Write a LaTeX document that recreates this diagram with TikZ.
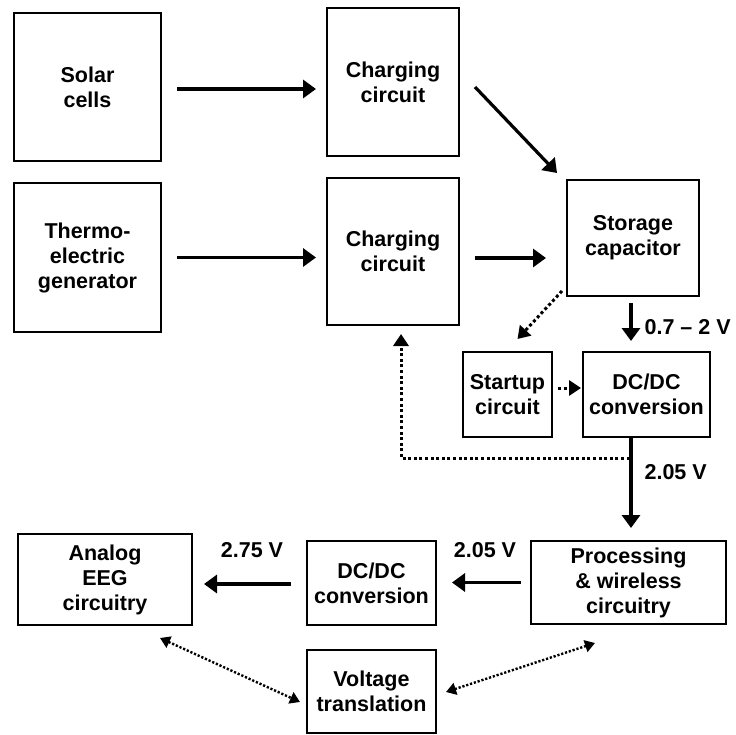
\documentclass[tikz,border=0pt]{standalone}
\usepackage{fontspec}
\setmainfont{Liberation Sans}
\usetikzlibrary{arrows.meta}
\tikzset{
  box/.style={draw=black,line width=2pt,inner sep=0pt,align=center,font=\bfseries\fontsize{21.5}{25}\selectfont},
  lbl/.style={inner sep=0pt,font=\bfseries\fontsize{21.5}{25}\selectfont},
  ar/.style={-{Triangle[length=13pt,width=18pt]},line width=3.2pt},
  ard/.style={-{Triangle[length=12pt,width=15pt]},line width=3pt,dash pattern=on 3pt off 2.6pt},
  ardd/.style={{Triangle[length=10pt,width=12pt]}-{Triangle[length=10pt,width=12pt]},line width=2.4pt,dash pattern=on 2.2pt off 1.8pt},
}
\begin{document}
\begin{tikzpicture}[x=1pt,y=-1pt]
  \useasboundingbox (0,0) rectangle (736,735);

  % ── harvesting side ──
  \node[box,minimum width=147pt,minimum height=148pt] (solar) at (87.5,87) {Solar\\cells};
  \node[box,minimum width=132pt,minimum height=148pt] (chg1) at (393,82) {Charging\\circuit};
  \node[box,minimum width=147pt,minimum height=149pt] (teg) at (87.5,257.5) {Thermo-\\electric\\generator};
  \node[box,minimum width=132pt,minimum height=147pt] (chg2) at (393,251.5) {Charging\\circuit};
  \node[box,minimum width=132pt,minimum height=116pt] (stor) at (633,238) {Storage\\capacitor};

  % ── power conversion ──
  \node[box,minimum width=89pt,minimum height=85pt] (start) at (507.5,394.5) {Startup\\circuit};
  \node[box,minimum width=127pt,minimum height=85pt] (dcdc1) at (646.5,394.5) {DC/DC\\conversion};

  % ── load side ──
  \node[box,minimum width=195pt,minimum height=83pt] (proc) at (628.5,582.5) {Processing\\\& wireless\\circuitry};
  \node[box,minimum width=129pt,minimum height=84pt] (dcdc2) at (371.5,583) {DC/DC\\conversion};
  \node[box,minimum width=174pt,minimum height=91pt] (eeg) at (105,579.5) {Analog\\EEG\\circuitry};
  \node[box,minimum width=129pt,minimum height=83pt] (volt) at (371.5,691.5) {Voltage\\translation};

  % solid power paths
  \draw[ar,shorten <=15pt,shorten >=10pt] ([yshift=-2pt]solar.east) -- ([yshift=-2pt]solar.east -| chg1.west);
  \draw[ar,shorten <=15pt,shorten >=10pt] (teg.east) -- (teg.east -| chg2.west);
  \draw[ar] ([shift={(15,5)}]chg1.east) -- ([shift={(-9,-6)}]stor.north west);
  \draw[ar,shorten <=15pt,shorten >=20pt] ([yshift=-6.5pt]chg2.east) -- ([yshift=-6.5pt]chg2.east -| stor.west);
  \draw[ar,shorten <=6pt,shorten >=10pt] ([xshift=-2pt]stor.south) -- ([xshift=-2pt]stor.south |- dcdc1.north)
    node[lbl,pos=.55,anchor=west,xshift=12pt] (v1) {0.7 – 2 V};
  \draw[ar,shorten >=12pt] ([xshift=-15.5pt]dcdc1.south) -- ([xshift=-15.5pt]dcdc1.south |- proc.north)
    node[lbl,pos=.33,anchor=west,xshift=12pt] (v2) {2.05 V};
  \draw[ar,shorten <=9pt,shorten >=15pt] (proc.west) -- (proc.west -| dcdc2.east);
  \draw[ar,shorten <=15pt,shorten >=11pt] ([yshift=-1pt]dcdc2.west) -- ([yshift=-1pt]dcdc2.west -| eeg.east);
  \node[lbl] (v3) at (485,550) {2.05 V};
  \node[lbl] (v4) at (252,550) {2.75 V};

  % dotted control paths
  \draw[ard] ([shift={(-4,-6)}]stor.south west) -- ([shift={(10,-12)}]start.north);
  \draw[ard,shorten <=5pt,shorten >=1pt] ([yshift=6.5pt]start.east) -- ([yshift=6.5pt]start.east -| dcdc1.west);
  \coordinate (fb) at ([shift={(-17,20)}]dcdc1.south);
  \draw[ard] (fb) -| ([shift={(8,8)}]chg2.south);

  % level shifting
  \draw[ardd] ([shift={(-33,12)}]eeg.south east) -- ([shift={(-6,10.5)}]volt.west);
  \draw[ardd] ([shift={(-33.5,18)}]proc.south) -- ([shift={(9,0.5)}]volt.east);
\end{tikzpicture}
\end{document}
